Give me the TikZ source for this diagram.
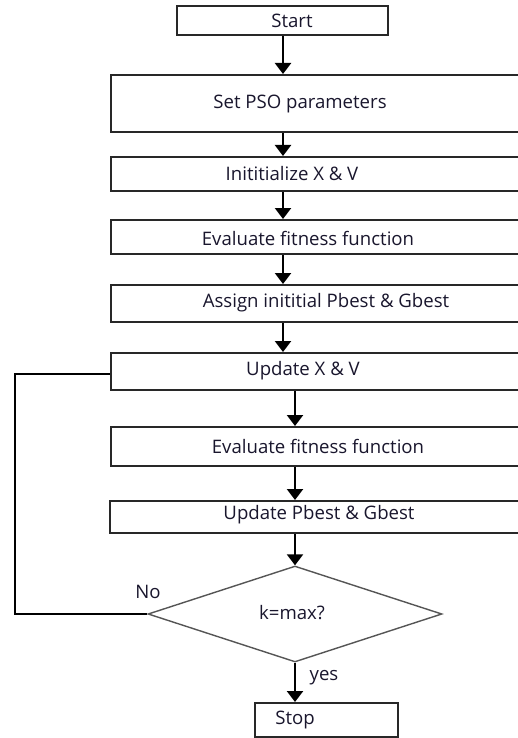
\documentclass[tikz,border=0pt]{standalone}
\usepackage{fontspec}
\setmainfont{Open Sans}
\usetikzlibrary{shapes.geometric,arrows.meta}
\definecolor{boxline}{RGB}{40,40,40}
\definecolor{txt}{RGB}{25,22,45}
\definecolor{diagray}{RGB}{85,85,85}
\tikzset{
  box/.style={draw=boxline, line width=2pt, rectangle, inner sep=0pt},
  lbl/.style={text=txt, font=\fontsize{18.6}{21}\selectfont, inner sep=0pt},
  arr/.style={draw=black, line width=2.4pt, -{Triangle[width=16pt,length=11pt]}},
  dia/.style={draw=diagray, line width=1.4pt, diamond, inner sep=0pt},
  loopline/.style={draw=black, line width=1.4pt}
}
\begin{document}
\begin{tikzpicture}[x=1pt,y=-1pt]
\useasboundingbox (0,0) rectangle (518,738);
\clip (0,0) rectangle (518,738);
\fill[white] (0,0) rectangle (518,738);
% boxes
\node[box, minimum width=211pt, minimum height=29pt] (start) at (282.5,20.5) {};
\node[box, minimum width=419pt, minimum height=57pt] (pso) at (320.5,103.5) {};
\node[box, minimum width=419pt, minimum height=34pt] (init) at (320.5,174) {};
\node[box, minimum width=419pt, minimum height=34pt] (evala) at (320.5,237) {};
\node[box, minimum width=419pt, minimum height=37pt] (assign) at (320.5,303.5) {};
\node[box, minimum width=419pt, minimum height=37pt] (upd) at (320.5,371.5) {};
\node[box, minimum width=419pt, minimum height=39pt] (evalb) at (320.5,446.5) {};
\node[box, minimum width=420pt, minimum height=32pt] (updp) at (320,517) {};
\node[dia, minimum width=294pt, minimum height=96pt] (cond) at (295,614) {};
\node[box, minimum width=143pt, minimum height=34pt] (stop) at (326.5,720) {};
% texts
\node[lbl] (tstart) at (292,20.5) {Start};
\node[lbl] (tpso) at (300,104) {Set PSO parameters};
\node[lbl] (tinit) at (292,174) {Inititialize X \& V};
\node[lbl] (tevala) at (308,238) {Evaluate fitness function};
\node[lbl] (tassign) at (326,303) {Assign inititial Pbest \& Gbest};
\node[lbl] (tupd) at (303,371) {Update X \& V};
\node[lbl] (tevalb) at (318,446) {Evaluate fitness function};
\node[lbl] (tupdp) at (319,515) {Update Pbest \& Gbest};
\node[lbl] (tcond) at (292,613) {k=max?};
\node[lbl] (tstop) at (295,720) {Stop};
\node[lbl] (tno) at (148,592) {No};
\node[lbl] (tyes) at (324,678) {yes};
% arrow columns
\coordinate (ca) at (283,0);
\coordinate (cb) at (295,0);
\coordinate (lt) at (15,374);
% arrows
\draw[arr] (start.south -| ca) -- (pso.north -| ca);
\draw[arr] (pso.south -| ca) -- (init.north -| ca);
\draw[arr] (init.south -| ca) -- (evala.north -| ca);
\draw[arr] (evala.south -| ca) -- (assign.north -| ca);
\draw[arr] (assign.south -| ca) -- (upd.north -| ca);
\draw[arr] (upd.south -| cb) -- (evalb.north -| cb);
\draw[arr] (evalb.south -| cb) -- (updp.north -| cb);
\draw[arr] (updp.south -| cond.north) -- (cond.north);
\draw[arr] (cond.south) -- (cond.south |- stop.north);
% loop back
\draw[loopline] (cond.west) -| (lt) -- (lt -| upd.west);
\end{tikzpicture}
\end{document}
